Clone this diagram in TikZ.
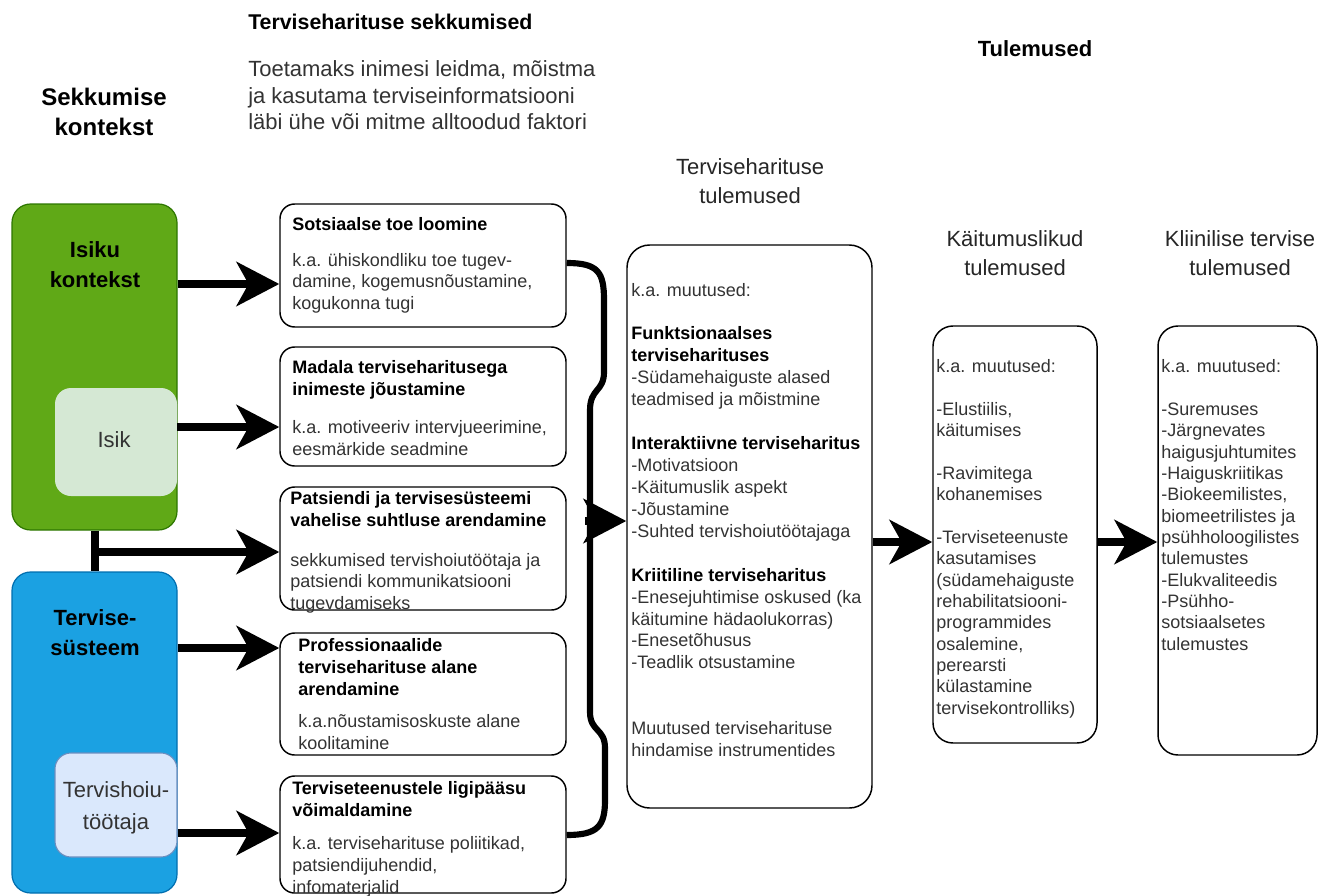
\documentclass[tikz,border=0pt]{standalone}
\usepackage{fontspec}
\setmainfont{Liberation Sans}
\usetikzlibrary{fit,arrows.meta}
\definecolor{txt}{HTML}{333333}
\definecolor{grnf}{HTML}{60A917}
\definecolor{grnd}{HTML}{2D7600}
\definecolor{isikf}{HTML}{D5E8D4}
\definecolor{bluf}{HTML}{1BA1E2}
\definecolor{blud}{HTML}{006EAF}
\definecolor{thjf}{HTML}{DAE8FC}
\definecolor{thjd}{HTML}{6C8EBF}
\newcommand{\mybold}[1]{\textcolor{black}{\bfseries #1}}
\tikzset{
  bx/.style={draw=black, line width=1.1pt, rounded corners=11pt, fill=white, inner sep=0pt},
  tallbx/.style={bx, rounded corners=17pt},
  arr/.style={line width=6pt, -{Stealth[length=32pt,width=33pt,inset=9pt]}},
  bracestyle/.style={line width=4.6pt, line join=round, line cap=butt},
  body/.style={font=\fontsize{13.5}{16.3}\selectfont, text=txt, inner sep=0pt, align=left, anchor=base west},
  ttl/.style={font=\bfseries\fontsize{13.5}{16.8}\selectfont, text=black, inner sep=0pt, align=left, anchor=base west},
  hdr/.style={font=\fontsize{16.5}{21.3}\selectfont, text=black!85, inner sep=0pt, align=center, anchor=base},
}
\begin{document}
\begin{tikzpicture}[x=0.75pt,y=-0.75pt]
\useasboundingbox (0,0) rectangle (1319,895);

% headers (multi-line nodes are placed by the baseline of their last line)
\node[font=\bfseries\fontsize{16}{20}\selectfont, anchor=base west, inner sep=0pt] (hsek) at (248,30) {Terviseharituse sekkumised};
\node[font=\fontsize{16.5}{19.9}\selectfont, text=txt, anchor=base west, inner sep=0pt, align=left] (htoe) at (248,130) {Toetamaks inimesi leidma, mõistma\\ja kasutama terviseinformatsiooni\\läbi ühe või mitme alltoodud faktori};
\node[font=\bfseries\fontsize{18}{23}\selectfont, anchor=base, inner sep=0pt, align=center] (hkon) at (104,136) {Sekkumise\\kontekst};
\node[font=\bfseries\fontsize{16.5}{20}\selectfont, anchor=base, inner sep=0pt] (htul) at (1035,57) {Tulemused};
\node[hdr] (hth) at (750,203) {Terviseharituse\\tulemused};
\node[hdr] (hka) at (1015,275) {Käitumuslikud\\tulemused};
\node[hdr] (hkl) at (1240,275) {Kliinilise tervise\\tulemused};

% context boxes
\node[fit={(12,204)(177,530)}, inner sep=0pt, fill=grnf, draw=grnd, line width=0.9pt, rounded corners=14pt] (green) {};
\node[fit={(55,388)(177,496)}, inner sep=0pt, fill=isikf, rounded corners=12pt] (isik) {};
\node[fit={(12,572)(177,893)}, inner sep=0pt, fill=bluf, draw=blud, line width=0.9pt, rounded corners=14pt] (blue) {};
\node[fit={(55,753)(177,857)}, inner sep=0pt, fill=thjf, draw=thjd, line width=0.8pt, rounded corners=12pt] (thj) {};

\node[hdr, font=\bfseries\fontsize{16.5}{21.8}\selectfont, text=black] (tgreen) at (95,287) {Isiku\\kontekst};
\node[hdr, text=txt] (tisik) at (114,447) {Isik};
\node[hdr, font=\bfseries\fontsize{16.5}{22.5}\selectfont, text=black] (tblue) at (95,655) {Tervise-\\süsteem};
\node[hdr, font=\fontsize{16.5}{24}\selectfont, text=txt] (tthj) at (116,829) {Tervishoiu-\\töötaja};

% intervention boxes
\node[bx, fit={(280,204)(566,327)}] (b1) {};
\node[bx, fit={(280,347)(566,466)}] (b2) {};
\node[bx, fit={(280,487)(566,610)}] (b3) {};
\node[bx, fit={(280,633)(566,755)}] (b4) {};
\node[bx, fit={(280,776)(566,893)}] (b5) {};

\node[ttl] (b1t) at (292,230) {Sotsiaalse toe loomine};
\node[body] (b1b) at (292,309.5) {k.a. ühiskondliku toe tugev-\\damine, kogemusnõustamine,\\kogukonna tugi};
\node[ttl] (b2t) at (292,395.4) {Madala terviseharitusega\\inimeste jõustamine};
\node[body] (b2b) at (292,455.7) {k.a. motiveeriv intervjueerimine,\\eesmärkide seadmine};
\node[ttl] (b3t) at (290,526.4) {Patsiendi ja tervisesüsteemi\\vahelise suhtluse arendamine};
\node[body] (b3b) at (290,609.5) {sekkumised tervishoiutöötaja ja\\patsiendi kommunikatsiooni\\tugevdamiseks};
\node[ttl] (b4t) at (298,695.8) {Professionaalide\\terviseharituse alane\\arendamine};
\node[body] (b4b) at (298,749.7) {k.a.nõustamisoskuste alane\\koolitamine};
\node[ttl] (b5t) at (292,816.4) {Terviseteenustele ligipääsu\\võimaldamine};
\node[body] (b5b) at (292,893) {k.a. terviseharituse poliitikad,\\patsiendijuhendid,\\infomaterjalid};

% outcome boxes
\node[tallbx, fit={(627,245)(872,808)}] (big) {};
\node[tallbx, rounded corners=15pt, fit={(933,326)(1097,743)}] (beh) {};
\node[tallbx, rounded corners=15pt, fit={(1158,326)(1317,755)}] (cli) {};

\node[body, font=\fontsize{13.5}{16.45}\selectfont] (bigt) at (631,756.6) {k.a. muutused:\\[16.45pt]
\mybold{Funktsionaalses}\\
\mybold{terviseharituses}\\
-Südamehaiguste alased\\
teadmised ja mõistmine\\[16.45pt]
\mybold{Interaktiivne terviseharitus}\\
-Motivatsioon\\
-Käitumuslik aspekt\\
-Jõustamine\\
-Suhted tervishoiutöötajaga\\[16.45pt]
\mybold{Kriitiline terviseharitus}\\
-Enesejuhtimise oskused (ka\\
käitumine hädaolukorras)\\
-Enesetõhusus\\
-Teadlik otsustamine\\[32.9pt]
Muutused terviseharituse\\
hindamise instrumentides};

\node[body, font=\fontsize{13.5}{16}\selectfont] (beht) at (936,714) {k.a. muutused:\\[16pt]
-Elustiilis,\\käitumises\\[16pt]
-Ravimitega\\kohanemises\\[16pt]
-Terviseteenuste\\kasutamises\\(südamehaiguste\\rehabilitatsiooni-\\programmides\\osalemine,\\perearsti\\külastamine\\tervisekontrolliks)};

\node[body, font=\fontsize{13.5}{16}\selectfont] (clit) at (1161,650) {k.a. muutused:\\[16pt]
-Suremuses\\-Järgnevates\\haigusjuhtumites\\-Haiguskriitikas\\-Biokeemilistes,\\biomeetrilistes ja\\psühholoogilistes\\tulemustes\\-Elukvaliteedis\\-Psühho-\\sotsiaalsetes\\tulemustes};

% connectors from context
\coordinate (jn) at (95,552);
\draw[line width=6pt] (green.south -| jn) -- (blue.north -| jn);
\draw[arr] (green.east |- 0,284) -- (b1.west |- 0,284);
\draw[arr] (isik.east |- 0,427) -- (b2.west |- 0,427);
\draw[arr] (jn) -- (b3.west |- jn);
\draw[arr] (blue.east |- 0,648) -- (b4.west |- 0,648);
\draw[arr] (blue.east |- 0,833) -- (b5.west |- 0,833);

% brace
\coordinate (bm) at (590,521);
\draw[bracestyle] (b1.east |- 0,263) .. controls (598,263) and (604,272) .. (604,300) -- (604,372) .. controls (604,392) and (590,388) .. (590,410) -- (bm);
\draw[bracestyle] (b5.east |- 0,835) .. controls (598,835) and (605,826) .. (605,800) -- (605,748) .. controls (605,728) and (590,732) .. (590,712) -- (bm);
\coordinate (bs) at (585,521);
\draw[arr] (bs) -- (big.west |- bs);

% outcome arrows
\draw[arr] (big.east |- 0,542) -- (beh.west |- 0,542);
\draw[arr] (beh.east |- 0,542) -- (cli.west |- 0,542);
\end{tikzpicture}
\end{document}
